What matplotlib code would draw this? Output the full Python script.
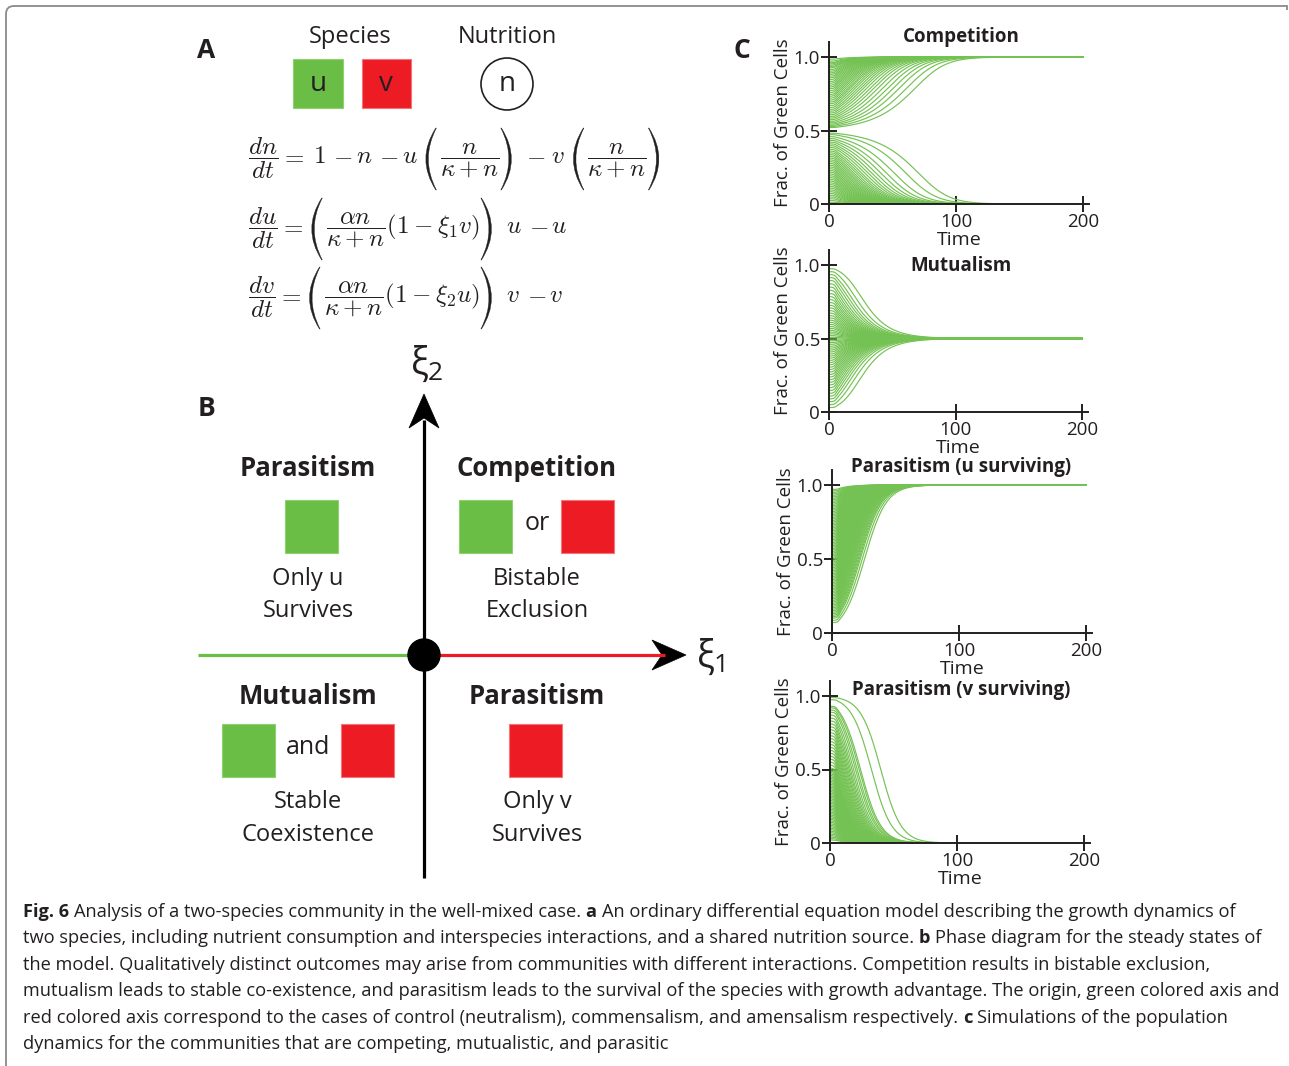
import numpy as np
import matplotlib
matplotlib.use('Agg')
import matplotlib.pyplot as plt
from matplotlib.patches import Rectangle, Circle, Polygon, PathPatch
from matplotlib.path import Path

W, H = 1289, 1066
FONT = ['Open Sans', 'DejaVu Sans']
plt.rcParams['font.family'] = FONT
plt.rcParams['mathtext.fontset'] = 'cm'
INK = '#231f20'
GREEN = '#6abd45'
RED = '#ed1c24'
CURVE = '#74c253'

# ---------------- model (panel A) parameters ----------------
alpha = 2.0
kappa = 0.1
n_init = 1.0
pop_init = 0.02
t_end = 200.0
dt = 0.1

panel_titles = ['Competition', 'Mutualism', 'Parasitism (u surviving)', 'Parasitism (v surviving)']
xi1_values = [0.05, -0.075, -0.065, 0.07]
xi2_values = [0.05, -0.075, 0.065, -0.07]

# initial fraction of green cells (u) for each simulated community
comp_f0 = [0.985, 0.972, 0.961, 0.953, 0.944, 0.935, 0.926, 0.914, 0.903, 0.892, 0.881,
           0.869, 0.858, 0.846, 0.833, 0.821, 0.808, 0.796, 0.784, 0.771, 0.758, 0.745,
           0.733, 0.72, 0.707, 0.694, 0.682, 0.669, 0.656, 0.643, 0.631, 0.619, 0.607,
           0.595, 0.584, 0.573, 0.562, 0.552, 0.543, 0.535, 0.527, 0.52,
           0.482, 0.472, 0.458, 0.445, 0.433, 0.421, 0.409, 0.397, 0.385, 0.372, 0.36,
           0.348, 0.336, 0.324, 0.312, 0.3, 0.288, 0.276, 0.264, 0.252, 0.24, 0.228,
           0.216, 0.204, 0.192, 0.18, 0.168, 0.156, 0.144, 0.132, 0.12, 0.108, 0.096,
           0.084, 0.072, 0.06, 0.048, 0.036, 0.024, 0.012]
mut_f0 = [0.975, 0.955, 0.935, 0.915, 0.895, 0.872, 0.85, 0.828, 0.806, 0.785, 0.765,
          0.745, 0.726, 0.708, 0.69, 0.673, 0.656, 0.64, 0.625, 0.61, 0.596, 0.582,
          0.569, 0.556, 0.544, 0.532, 0.52, 0.508, 0.496, 0.484, 0.472, 0.46, 0.447,
          0.434, 0.421, 0.408, 0.394, 0.38, 0.366, 0.351, 0.336, 0.321, 0.305, 0.289,
          0.272, 0.255, 0.238, 0.22, 0.202, 0.184, 0.165, 0.146, 0.127, 0.108, 0.089,
          0.07, 0.05, 0.03]
para_u_f0 = [0.07, 0.085, 0.1, 0.11, 0.12, 0.13, 0.14, 0.15, 0.16, 0.17, 0.18, 0.19,
             0.2, 0.21, 0.22, 0.23, 0.24, 0.25, 0.26, 0.27, 0.28, 0.29, 0.3, 0.31, 0.32,
             0.33, 0.34, 0.35, 0.36, 0.37, 0.38, 0.39, 0.4, 0.41, 0.42, 0.43, 0.44, 0.45,
             0.46, 0.47, 0.48, 0.49, 0.5, 0.51, 0.52, 0.53, 0.54, 0.55, 0.56, 0.57, 0.58,
             0.59, 0.6, 0.61, 0.62, 0.63, 0.64, 0.65, 0.66, 0.67, 0.68, 0.69, 0.7, 0.71,
             0.72, 0.73, 0.74, 0.75, 0.76, 0.77, 0.78, 0.79, 0.8, 0.81, 0.82, 0.83, 0.84,
             0.85, 0.86, 0.87, 0.88, 0.89, 0.9, 0.91, 0.92, 0.93, 0.94, 0.95, 0.96, 0.97]
para_v_f0 = [0.99, 0.975, 0.93, 0.92, 0.905, 0.89, 0.87, 0.85, 0.83, 0.81, 0.79, 0.77,
             0.75, 0.73, 0.71, 0.69, 0.67, 0.65, 0.63, 0.61, 0.59, 0.57, 0.55, 0.53,
             0.51, 0.5, 0.49, 0.48, 0.47, 0.46, 0.45, 0.44, 0.43, 0.42, 0.41, 0.4, 0.39,
             0.38, 0.37, 0.36, 0.35, 0.34, 0.33, 0.32, 0.31, 0.3, 0.29, 0.28, 0.27, 0.26,
             0.25, 0.24, 0.23, 0.22, 0.21, 0.2, 0.19, 0.18, 0.17, 0.16, 0.15, 0.14, 0.13,
             0.12, 0.11, 0.1, 0.09, 0.08, 0.07, 0.06, 0.05, 0.04, 0.03, 0.02]
initial_fractions = [comp_f0, mut_f0, para_u_f0, para_v_f0]

x_ticks = [0, 100, 200]
x_ticklabels = ['0', '100', '200']
y_ticks = [0, 0.5, 1.0]
y_ticklabels = ['0', '0.5', '1.0']


def simulate(f0, xi1, xi2):
    f0 = np.asarray(f0, float)
    n = np.full_like(f0, n_init)
    u = pop_init * f0
    v = pop_init * (1 - f0)
    steps = int(round(t_end / dt))
    t = np.arange(steps + 1) * dt
    out = np.empty((steps + 1, f0.size))
    out[0] = u / (u + v)

    def rhs(n, u, v):
        m = n / (kappa + n)
        return (1 - n - (u + v) * m,
                (alpha * m * (1 - xi1 * v) - 1) * u,
                (alpha * m * (1 - xi2 * u) - 1) * v)

    for i in range(steps):
        a = rhs(n, u, v)
        b = rhs(n + 0.5 * dt * a[0], u + 0.5 * dt * a[1], v + 0.5 * dt * a[2])
        c = rhs(n + 0.5 * dt * b[0], u + 0.5 * dt * b[1], v + 0.5 * dt * b[2])
        d = rhs(n + dt * c[0], u + dt * c[1], v + dt * c[2])
        n = n + dt / 6 * (a[0] + 2 * b[0] + 2 * c[0] + d[0])
        u = u + dt / 6 * (a[1] + 2 * b[1] + 2 * c[1] + d[1])
        v = v + dt / 6 * (a[2] + 2 * b[2] + 2 * c[2] + d[2])
        out[i + 1] = u / (u + v)
    return t, out


fig = plt.figure(figsize=(W / 100, H / 100), dpi=100)
ov = fig.add_axes([0, 0, 1, 1])
ov.set_xlim(0, W)
ov.set_ylim(H, 0)
ov.axis('off')
renderer = fig.canvas.get_renderer()

# ---------------- border ----------------
verts = [(6, H), (6, 14), (6, 6), (14, 6), (1287, 6), (1287, 10)]
codes = [Path.MOVETO, Path.LINETO, Path.CURVE3, Path.CURVE3, Path.LINETO, Path.LINETO]
ov.add_patch(PathPatch(Path(verts, codes), fill=False, edgecolor='#8a8a8a', lw=1.3))

# ---------------- panel A ----------------
ov.text(206, 50, 'A', fontsize=19, fontweight='bold', color=INK, ha='center', va='center')
ov.text(350, 37, 'Species', fontsize=17, color=INK, ha='center', va='center')
ov.text(507, 37, 'Nutrition', fontsize=17, color=INK, ha='center', va='center')
ov.add_patch(Rectangle((293, 59), 50, 49, facecolor=GREEN, edgecolor='#8fd06f', lw=0.8))
ov.add_patch(Rectangle((362, 59), 49, 49, facecolor=RED, edgecolor='#f2757a', lw=0.8))
ov.text(318, 84, 'u', fontsize=20, color=INK, ha='center', va='center')
ov.text(386, 84, 'v', fontsize=20, color=INK, ha='center', va='center')
ov.add_patch(Circle((507, 84), 26, facecolor='white', edgecolor=INK, lw=1.2))
ov.text(507, 84, 'n', fontsize=20, color=INK, ha='center', va='center')

EQ_FS = 18
AXIS_OFF = 0.25 * EQ_FS * 100 / 72.0   # math axis height above baseline, px


def paren(x, yc, h, w, left=True, thick=2.5):
    # crescent-shaped delimiter, x is left edge of its ink box
    top, bot = yc - h / 2.0, yc + h / 2.0
    if left:
        end, belly = x + w, x
        co = 2 * belly - end
        ci = 2 * (belly + thick) - (end + 0.6)
        e2 = end + 0.6
    else:
        end, belly = x, x + w
        co = 2 * belly - end
        ci = 2 * (belly - thick) - (end - 0.6)
        e2 = end - 0.6
    vv = [(end, top), (co, yc), (end, bot), (e2, bot), (ci, yc), (e2, top), (end, top)]
    cc = [Path.MOVETO, Path.CURVE3, Path.CURVE3, Path.LINETO, Path.CURVE3, Path.CURVE3, Path.CLOSEPOLY]
    ov.add_patch(PathPatch(Path(vv, cc), facecolor=INK, edgecolor=INK, lw=0.3))


def equation(x, y_axis, items, ph):
    yb = y_axis + AXIS_OFF
    for it in items:
        kind = it[0]
        if kind == 'm':
            tt = ov.text(x, yb, '$' + it[1] + '$', fontsize=EQ_FS, color=INK, ha='left', va='baseline')
            x += tt.get_window_extent(renderer).width
        elif kind == 'g':
            x += it[1]
        elif kind == 'l':
            paren(x, y_axis + 2, ph, 10, left=True)
            x += 14
        elif kind == 'r':
            paren(x + 2, y_axis + 2, ph, 10, left=False)
            x += 13


eq1 = [('m', r'\dfrac{dn}{dt}'), ('g', 2), ('m', '='), ('g', 9), ('m', '1'), ('g', 7), ('m', '-'), ('g', 4),
       ('m', 'n'), ('g', 6), ('m', '-'), ('g', 4), ('m', 'u'), ('g', 8),
       ('l',), ('m', r'\dfrac{n}{\kappa + n}'), ('r',),
       ('g', 14), ('m', r'-'), ('g', 5), ('m', r'v'), ('g', 9), ('l',), ('m', r'\dfrac{n}{\kappa + n}'), ('r',)]
eq2 = [('m', r'\dfrac{du}{dt}'), ('g', 2), ('m', '='), ('g', 8), ('l',),
       ('m', r'\dfrac{\alpha n}{\kappa + n}(1 - \xi_1 v)'), ('r',),
       ('g', 14), ('m', 'u'), ('g', 7), ('m', '-'), ('g', 3), ('m', 'u')]
eq3 = [('m', r'\dfrac{dv}{dt}'), ('g', 2), ('m', '='), ('g', 8), ('l',),
       ('m', r'\dfrac{\alpha n}{\kappa + n}(1 - \xi_2 u)'), ('r',),
       ('g', 14), ('m', 'v'), ('g', 7), ('m', '-'), ('g', 3), ('m', 'v')]
equation(248, 157, eq1, 62)
equation(248, 227, eq2, 62)
equation(248, 296, eq3, 62)

# ---------------- panel B ----------------
ov.text(206, 408, 'B', fontsize=19, fontweight='bold', color=INK, ha='center', va='center')
ov.plot([424, 424], [878, 420], color='black', lw=2.3, solid_capstyle='butt')
ov.plot([198, 424], [655, 655], color=GREEN, lw=2.3, solid_capstyle='butt')
ov.plot([424, 665], [655, 655], color=RED, lw=2.3, solid_capstyle='butt')
ov.add_patch(Polygon([(424, 394), (439, 428), (424, 418), (409, 428)], closed=True,
                     facecolor='black', edgecolor='black', lw=0.5))
ov.add_patch(Polygon([(686, 655), (652, 640), (662, 655), (652, 670)], closed=True,
                     facecolor='black', edgecolor='black', lw=0.5))
ov.add_patch(Circle((424, 655), 16, facecolor='black', edgecolor='black', zorder=5))
ov.text(420, 364, 'ξ', fontsize=27, color=INK, ha='center', va='center')
ov.text(435, 373, '2', fontsize=19, color=INK, ha='center', va='center')
ov.text(706, 657, 'ξ', fontsize=27, color=INK, ha='center', va='center')
ov.text(721, 666, '1', fontsize=19, color=INK, ha='center', va='center')

def sq(x, y, col, edge):
    ov.add_patch(Rectangle((x, y), 53, 53, facecolor=col, edgecolor=edge, lw=0.8))

BF = 18.5
RF = 17
ov.text(308, 468, 'Parasitism', fontsize=BF, fontweight='bold', color=INK, ha='center', va='center')
sq(285, 500, GREEN, '#8fd06f')
ov.text(308, 579, 'Only u', fontsize=RF, color=INK, ha='center', va='center')
ov.text(308, 611, 'Survives', fontsize=RF, color=INK, ha='center', va='center')

ov.text(537, 468, 'Competition', fontsize=BF, fontweight='bold', color=INK, ha='center', va='center')
sq(459, 500, GREEN, '#8fd06f')
ov.text(537, 524, 'or', fontsize=RF + 1, color=INK, ha='center', va='center')
sq(561, 500, RED, '#f2757a')
ov.text(537, 579, 'Bistable', fontsize=RF, color=INK, ha='center', va='center')
ov.text(537, 611, 'Exclusion', fontsize=RF, color=INK, ha='center', va='center')

ov.text(308, 696, 'Mutualism', fontsize=BF, fontweight='bold', color=INK, ha='center', va='center')
sq(222, 724, GREEN, '#8fd06f')
ov.text(308, 748, 'and', fontsize=RF + 1, color=INK, ha='center', va='center')
sq(341, 724, RED, '#f2757a')
ov.text(308, 802, 'Stable', fontsize=RF, color=INK, ha='center', va='center')
ov.text(308, 835, 'Coexistence', fontsize=RF, color=INK, ha='center', va='center')

ov.text(537, 696, 'Parasitism', fontsize=BF, fontweight='bold', color=INK, ha='center', va='center')
sq(509, 724, RED, '#f2757a')
ov.text(537, 802, 'Only v', fontsize=RF, color=INK, ha='center', va='center')
ov.text(537, 835, 'Survives', fontsize=RF, color=INK, ha='center', va='center')

# ---------------- panel C ----------------
ov.text(742, 50, 'C', fontsize=19, fontweight='bold', color=INK, ha='center', va='center')
axes_px = [(829, 1083, 204, 57), (829, 1082, 412, 265), (832, 1086, 633, 485), (830, 1084, 843, 696)]
title_y = [37, 266, 467, 690]
XMAX, YMAX = 205, 1.1
for k in range(4):
    x0, x200, y0, y1 = axes_px[k]
    ppt = (x200 - x0) / 200.0
    right = x0 + XMAX * ppt
    top = y0 - YMAX * (y0 - y1)
    ax = fig.add_axes([x0 / W, 1 - y0 / H, (right - x0) / W, (y0 - top) / H])
    t, fr = simulate(initial_fractions[k], xi1_values[k], xi2_values[k])
    ax.plot(t, fr, color=CURVE, lw=0.85)
    ax.set_xlim(0, XMAX)
    ax.set_ylim(0, YMAX)
    ax.patch.set_alpha(0)
    for s in ['top', 'right']:
        ax.spines[s].set_visible(False)
    for s in ['left', 'bottom']:
        ax.spines[s].set_linewidth(1.4)
        ax.spines[s].set_color(INK)
        ax.spines[s].set_zorder(5)
    ax.set_xticks(x_ticks)
    ax.set_xticklabels(x_ticklabels)
    ax.set_yticks(y_ticks)
    ax.set_yticklabels(y_ticklabels)
    ax.tick_params(direction='inout', length=11, width=1.4, colors=INK, labelsize=13.5, pad=1)
    ax.set_xlabel('Time', fontsize=14, color=INK, labelpad=0)
    ax.set_ylabel('Frac. of Green Cells', fontsize=13.5, color=INK, labelpad=1)
    ov.text(961, title_y[k], panel_titles[k], fontsize=13.5, fontweight='bold', color=INK,
            ha='center', va='center', zorder=10)

# ---------------- caption ----------------
caption_lines = [
    [('Fig. 6', True), ('Analysis of a two-species community in the well-mixed case.', False), ('a', True),
     ('An ordinary differential equation model describing the growth dynamics of', False)],
    [('two species, including nutrient consumption and interspecies interactions, and a shared nutrition source.', False),
     ('b', True), ('Phase diagram for the steady states of', False)],
    [('the model. Qualitatively distinct outcomes may arise from communities with different interactions. Competition results in bistable exclusion,', False)],
    [('mutualism leads to stable co-existence, and parasitism leads to the survival of the species with growth advantage. The origin, green colored axis and', False)],
    [('red colored axis correspond to the cases of control (neutralism), commensalism, and amensalism respectively.', False),
     ('c', True), ('Simulations of the population', False)],
    [('dynamics for the communities that are competing, mutualistic, and parasitic', False)],
]

def text_width(s, size, bold=False):
    tt = ov.text(0, 0, s, fontsize=size, fontweight='bold' if bold else 'normal')
    w = tt.get_window_extent(renderer).width
    tt.remove()
    return w

base = 12.0
wref = text_width(caption_lines[3][0][0], base)
cap_size = base * 1252.0 / wref
space_w = text_width('a a', cap_size) - text_width('aa', cap_size)

for i, line in enumerate(caption_lines):
    x = 23.0
    y = 917 + 26.4 * i
    for j, (s, bold) in enumerate(line):
        if j > 0:
            x += space_w
        tt = ov.text(x, y, s, fontsize=cap_size, fontweight='bold' if bold else 'normal',
                     color=INK, ha='left', va='baseline')
        x += tt.get_window_extent(renderer).width

fig.savefig('out.png', dpi=100)
